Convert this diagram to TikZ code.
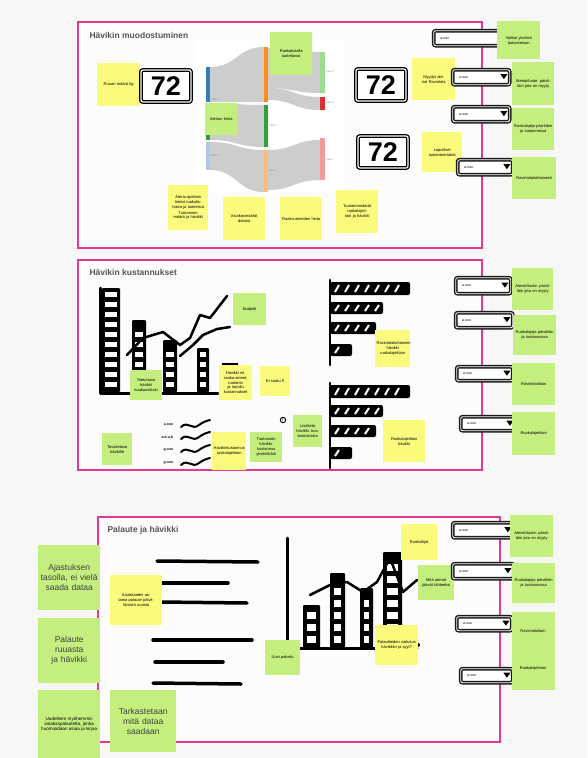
\documentclass[tikz,border=0pt]{standalone}
\usepackage{fontspec}
\setmainfont{Liberation Sans}
\usetikzlibrary{calc}
\definecolor{pinkb}{HTML}{E23A93}
\definecolor{noteY}{HTML}{FAFA7C}
\definecolor{noteG}{HTML}{C4EF7F}
\definecolor{bgc}{HTML}{F7F7F7}
\definecolor{titlec}{HTML}{555555}
\definecolor{flowc}{HTML}{CDCDCD}
\definecolor{sBlue}{HTML}{2F7EBE}
\definecolor{sOrange}{HTML}{FF8A1E}
\definecolor{sGreen}{HTML}{2DA23A}
\definecolor{sRed}{HTML}{D63030}
\definecolor{sLBlue}{HTML}{AEC8E8}
\definecolor{sLOrange}{HTML}{FDBB82}
\definecolor{sLGreen}{HTML}{9BDC8E}
\definecolor{sPink}{HTML}{F49A98}
\newcommand\stick[7]{%
  \pgfmathsetmacro\stw{#5-3}%
  \node[#2, anchor=north west, minimum width=#5pt, minimum height=#6pt,
        text width=\stw pt, inner xsep=1.5pt] (#1) at (#3,#4) {#7};}
\newcommand\ddbox[5]{%
  \node[ddstyle, anchor=north west, minimum width=#4pt, minimum height=#5pt] (#1) at (#2,#3) {};
  \node[anchor=west, font=\fontsize{3.5}{4}\selectfont, inner sep=0pt] at ([xshift=7pt]#1.west) {a-ooo};
  \fill ([xshift=-10pt,yshift=3pt]#1.east) -- ++(7,0) -- ++(-3.5,5) -- cycle;}
\begin{document}
\begin{tikzpicture}[x=1pt,y=-1pt,
  ynote/.style={fill=noteY, align=center, font=\fontsize{4}{4.8}\selectfont},
  gnote/.style={fill=noteG, align=center, font=\fontsize{4}{4.8}\selectfont},
  bignote/.style={fill=noteG, align=center, font=\fontsize{8.5}{10}\selectfont, text=black!75},
  ddstyle/.style={draw=black!90, line width=1.4pt, double=white, double distance=0.9pt,
     rounded corners=2pt, fill=white, inner sep=0pt},
  numbox/.style={draw=black, line width=1.3pt, double=white, double distance=1.2pt, rounded corners=2pt,
     fill=white, font=\fontsize{27}{27}\selectfont\bfseries, inner sep=1pt},
  panel/.style={draw=pinkb, line width=1.6pt},
  ptitle/.style={anchor=west, font=\fontsize{8.5}{9}\selectfont\bfseries, text=titlec},
  flow/.style={fill=flowc},
  item/.style={font=\fontsize{2.5}{3}\selectfont, text=black!50, anchor=west, inner sep=0.5pt},
  sketch/.style={line width=3pt, line cap=round, line join=round},
]
\useasboundingbox (0,0) rectangle (587,758);
\fill[bgc] (0,0) rectangle (587,758);

% ================= TOP PANEL =================
\draw[panel, fill=white!60!bgc] (78,22) rectangle (482,248);
\node[ptitle] (t1) at (86,35) {Hävikin muodostuminen};
% sankey area
\fill[white] (195,40) rectangle (345,192);
% flows
\fill[flow] (210,67) .. controls (237,67) and (237,47) .. (264,47) -- (264,102) .. controls (237,102) and (237,102) .. (210,102) -- cycle;
\fill[flow] (210,103) .. controls (237,103) and (237,105) .. (264,105) -- (264,147) .. controls (237,147) and (237,140) .. (210,140) -- cycle;
\fill[flow] (210,142) .. controls (237,142) and (237,150) .. (264,150) -- (264,192) .. controls (237,192) and (237,170) .. (210,170) -- cycle;
\fill[flow] (268,48) .. controls (294,48) and (294,52) .. (320,52) -- (320,93) .. controls (294,93) and (294,88) .. (268,88) -- cycle;
\fill[flow] (268,88) .. controls (294,88) and (294,97) .. (320,97) -- (320,110) .. controls (294,110) and (294,100) .. (268,100) -- cycle;
\fill[flow] (268,150) .. controls (294,150) and (294,140) .. (320,140) -- (320,180) .. controls (294,180) and (294,190) .. (268,190) -- cycle;
% bars
\fill[sBlue] (206,67) rectangle (210,102);
\fill[sGreen] (206,103) rectangle (210,140);
\fill[sLBlue] (206,142) rectangle (210,170);
\fill[sOrange] (264,47) rectangle (268,102);
\fill[sGreen] (264,105) rectangle (268,147);
\fill[sLOrange] (264,150) rectangle (268,192);
\fill[sLGreen] (320,52) rectangle (325,93);
\fill[sRed] (320,97) rectangle (325,110);
\fill[sPink] (320,138) rectangle (325,180);
\node[item] (i1) at (211,100) {Item 1};
\node[item] (i2) at (211,156) {Item 2};
\node[item] (i3) at (269,126) {Item 3};
\node[item] (i4) at (269,171) {Item 4};
\node[item] (i5) at (326,72) {Item 5};
\node[item] (i6) at (326,103) {Item 6};
\node[item] (i7) at (326,160) {Item 7};

\stick{n1}{ynote}{97}{63}{43}{43}{Ruuan määrä kg}
\node[numbox, minimum width=50pt, minimum height=32pt] (k1) at (166,86) {72};
\stick{n2}{gnote}{270}{32}{42}{43}{Ruokalistalla tuotettavat}
\stick{n3}{gnote}{205}{103}{32}{32}{Aterian hinta}
\node[numbox, minimum width=50pt, minimum height=32pt] (k2) at (381,85) {72};
\node[numbox, minimum width=50pt, minimum height=32pt] (k3) at (383,152) {72};
\stick{n4}{ynote}{412}{58}{43}{42}{Myydyt ateriat Ravintola}
\stick{n5}{ynote}{422}{132}{40}{40}{Lopulliset tuotantomäärät}
\stick{n6}{ynote}{168}{185}{40}{45}{Ateria-ajoittain tiedot ruokalistoista ja tuotteista\\[1pt] Tuotannon määrä ja hävikki}
\stick{n7}{ynote}{223}{197}{42}{43}{Asiakasmäärät datana}
\stick{n8}{ynote}{280}{197}{42}{43}{Raaka-aineiden hinta}
\stick{n9}{ynote}{336}{190}{42}{43}{Tuotantomäärät ruokalajeit- tain ja hävikki}

\ddbox{d1}{433}{30}{80}{15}
\ddbox{d2}{452}{69}{57}{15}
\ddbox{d3}{452}{106}{57}{15}
\ddbox{d4}{457}{159}{55}{15}
\stick{r1}{gnote}{497}{21}{43}{38}{Valitse yksikkö tarkasteluun}
\stick{r2}{gnote}{512}{62}{42}{43}{Ateriat/tuote- päivittäin jota on myyty}
\stick{r3}{gnote}{512}{108}{42}{42}{Ruokalajeja päivittäin ja tuotannossa}
\stick{r4}{gnote}{512}{157}{44}{42}{Ravintolakohtaisesti}

% ================= MIDDLE PANEL =================
\draw[panel, fill=white!60!bgc] (78,260) rectangle (482,470);
\node[ptitle] (t2) at (86,272) {Hävikin kustannukset};
% vertical bar chart
\foreach \xa/\xb/\yt in {102/120/288, 132/146/320, 163/177/340, 197/209/348}{
  \fill[black, rounded corners=1pt] (\xa,\yt) rectangle (\xb,392);
  \pgfmathtruncatemacro\ylim{\yt+3}
  \foreach \yy in {382,372,...,290}{
    \ifnum\yy>\ylim \fill[white] (\xa+3,\yy) rectangle (\xb-3,\yy+5); \fi }
}
\draw[sketch] (100,288) -- (100,393) -- (218,393);
\draw[sketch, line width=2.5pt] (127,355) -- (143,338) -- (163,332) -- (180,345) -- (190,338) -- (200,315) -- (210,318) -- (227,296);
\draw[sketch, line width=2.5pt] (180,356) -- (193,345) -- (203,335) -- (217,329) -- (230,327);
\draw[line width=2pt] (222,364) -- (238,364);
\stick{m1}{gnote}{233}{293}{33}{32}{Budjetti}
\stick{m2}{gnote}{130}{370}{32}{30}{Toteutunut hävikki kuukausittain}
\stick{m3}{ynote}{219}{365}{33}{35}{Hävikki ml. raaka-aineet, tuotanto ja tarjoilu kustannukset}
\stick{m4}{ynote}{260}{366}{30}{30}{Ei saatu €}
\node[circle, draw, line width=0.9pt, fill=white, inner sep=0.6pt, font=\fontsize{5}{5}\selectfont\bfseries] (q) at (283,420) {!};
\stick{m5}{gnote}{293}{415}{29}{32}{Lisätieto hävikki- kustannuksista}
\stick{m6}{gnote}{102}{433}{30}{32}{Tavoitetaso hävikille}
% legend
\foreach \yy/\lab in {425/a-ooo, 437/a-b-a-b, 450/g-ooo, 463/g-ooo}{
  \node[anchor=east, font=\fontsize{3.5}{4}\selectfont\bfseries, inner sep=0.5pt] at (174,\yy) {\lab};
  \draw[sketch, line width=2pt] (181,\yy+2) .. controls (188,\yy-5) and (192,\yy+6) .. (199,\yy) .. controls (203,\yy-3) and (206,\yy-4) .. (210,\yy-5);
}
\stick{m7}{ynote}{212}{432}{34}{38}{Hävikkikustannus ruokalajeittain}
\stick{m8}{gnote}{250}{432}{32}{30}{Tuotannon hävikki- kustannus yksiköittäin}
% horizontal bar charts
\foreach \yb in {282,385}{
  \draw[sketch, line width=2.5pt] (330,\yb-2) -- (330,\yb+83);
  \foreach \ya/\yz/\xr in {0/13/410, 20/32/383, 40/52/376, 62/74/352}{
    \fill[black, rounded corners=2pt] (330,\yb+\ya) rectangle (\xr,\yb+\yz);
    \pgfmathtruncatemacro\xlim{\xr-7}
    \foreach \xx in {335,345,...,405}{
      \ifnum\xx<\xlim \draw[white, line width=2pt] (\xx,\yb+\yz-3) -- (\xx+4,\yb+\ya+3); \fi }
  }
}
\stick{m9}{ynote}{375}{330}{35}{37}{Ravintolakohtainen hävikki ruokalajeittain}
\stick{m10}{ynote}{383}{420}{42}{42}{Ruokalajeittain hävikki}
\ddbox{d5}{455}{277}{55}{16}
\ddbox{d6}{455}{312}{57}{15}
\ddbox{d7}{456}{366}{56}{14}
\ddbox{d8}{460}{416}{55}{14}
\stick{r5}{gnote}{512}{268}{41}{42}{Ateriat/tuote- päivittäin jota on myyty}
\stick{r6}{gnote}{513}{315}{43}{40}{Ruokalajeja päivittäin ja tuotannossa}
\stick{r7}{gnote}{512}{363}{43}{42}{Ravintoloittain}
\stick{r8}{gnote}{512}{412}{43}{43}{Ruokalajeittain}

% ================= BOTTOM PANEL =================
\draw[panel, fill=white!60!bgc] (98,517) rectangle (500,742);
\node[ptitle] (t3) at (104,530) {Palaute ja hävikki};
\foreach \xa/\ya/\xb/\yb in {157/561/258/562, 160/583/228/583, 160/602/247/603, 153/640/252/640, 155/662/223/662, 153/683/241/684}{
  \draw[line width=3.5pt, line cap=round] (\xa,\ya) -- (\xb,\yb);
}
% bar chart
\foreach \xa/\xb/\yt in {303/320/605, 330/345/573, 360/373/588, 383/402/552}{
  \fill[black, rounded corners=1pt] (\xa,\yt) rectangle (\xb,648);
  \pgfmathtruncatemacro\ylim{\yt+3}
  \foreach \yy in {636,624,...,556}{
    \ifnum\yy>\ylim \fill[white] (\xa+4,\yy) rectangle (\xb-4,\yy+7); \fi }
}
\draw[sketch] (287,538) -- (287,648) -- (417,648);
\draw[sketch, line width=2.5pt] (310,595) -- (330,585) -- (347,582) -- (363,592) -- (377,582) -- (390,558) -- (403,592) -- (417,580);
\fill (418,645) circle (2);
\stick{b1}{ynote}{110}{575}{52}{50}{Asiakkaiden antama palaute päivittäisistä ruuista}
\stick{b2}{gnote}{265}{640}{35}{35}{Uusi palvelu}
\stick{b3}{ynote}{401}{524}{36}{36}{Ruokailijat}
\stick{b4}{gnote}{418}{565}{36}{35}{Mitä ateriat jäävät tähteeksi}
\stick{b5}{ynote}{375}{625}{43}{40}{Palautteiden vaikutus hävikkiin ja syyt?}
\ddbox{d9}{452}{522}{61}{15}
\ddbox{d10}{452}{563}{61}{15}
\ddbox{d11}{456}{616}{55}{14}
\ddbox{d12}{460}{668}{52}{14}
\stick{r9}{gnote}{510}{515}{43}{42}{Ateriat/tuote- päivittäin jota on myyty}
\stick{r10}{gnote}{512}{563}{43}{40}{Ruokalajeja päivittäin ja tuotannossa}
\node[fill=noteG, anchor=north west, minimum width=43pt, minimum height=78pt] (r11) at (512,612) {};
\node[font=\fontsize{4}{4.8}\selectfont] (r11a) at (533,631) {Ravintoloittain};
\node[font=\fontsize{4}{4.8}\selectfont] (r11b) at (533,668) {Ruokalajeittain};
% left big notes
\stick{L1}{bignote}{38}{545}{62}{65}{Ajastuksen tasolla, ei vielä saada dataa}
\stick{L2}{bignote}{38}{618}{62}{65}{Palaute ruuasta ja hävikki}
\stick{L3}{gnote}{38}{690}{62}{68}{\fontsize{4.6}{6}\selectfont Uudelleen myöhemmin asiakaspalautetta, jonka huomioidaan asiaa ja kirjaa}
\stick{L4}{bignote}{110}{690}{66}{62}{Tarkastetaan mitä dataa saadaan}
\end{tikzpicture}
\end{document}
